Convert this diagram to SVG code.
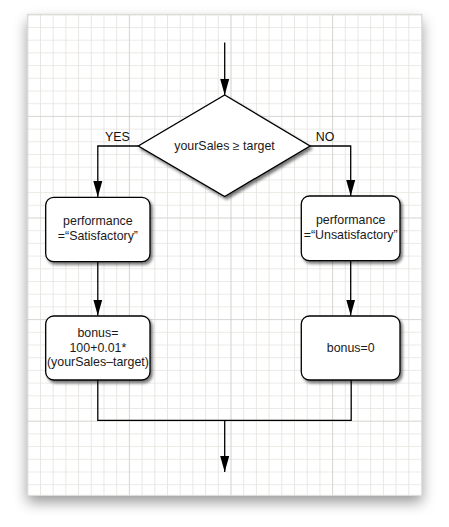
<svg xmlns="http://www.w3.org/2000/svg" width="449" height="527" viewBox="0 0 449 527">
<defs>
<pattern id="minor" patternUnits="userSpaceOnUse" x="27.3" y="14.3" width="12.7" height="12.7">
<rect width="12.7" height="12.7" fill="#ffffff"/>
<path d="M0 0 H12.7 M0 0 V12.7" stroke="#e6e4e0" stroke-width="1.7" fill="none"/>
</pattern>
<pattern id="major" patternUnits="userSpaceOnUse" x="27.3" y="14.3" width="101.6" height="101.6">
<path d="M0 0 H101.6 M0 0 V101.6" stroke="#c6c5c1" stroke-width="1" fill="none"/>
</pattern>
<filter id="paperShadow" x="-10%" y="-10%" width="120%" height="125%">
<feDropShadow dx="0" dy="7" stdDeviation="7" flood-color="#000" flood-opacity="0.4"/>
</filter>
<filter id="nodeShadow" x="-10%" y="-10%" width="125%" height="130%">
<feDropShadow dx="2" dy="2.5" stdDeviation="1.6" flood-color="#000" flood-opacity="0.55"/>
</filter>
<marker id="arrow" viewBox="0 0 16 10" refX="16" refY="5" markerWidth="16" markerHeight="10" markerUnits="userSpaceOnUse" orient="auto">
<path d="M0 0.5 L16 5 L0 9.5 Z" fill="#000"/>
</marker>
<style>
.conn { fill: none; stroke: #000; stroke-width: 1.3; }
.box { fill: #fff; stroke: #000; stroke-width: 1.3; filter: url(#nodeShadow); }
.lbl { font-family: "Liberation Sans", Arial, sans-serif; font-size: 12.4px; fill: #1a1a1a; text-anchor: middle; }
.yn { font-family: "Liberation Sans", Arial, sans-serif; font-size: 12.4px; fill: #111; text-anchor: middle; }
</style>
</defs>

<g id="paper">
<rect x="27.3" y="14.3" width="394.7" height="481" fill="#fff" filter="url(#paperShadow)"/>
<rect x="27.3" y="14.3" width="394.7" height="481" fill="url(#minor)"/>
<rect x="27.3" y="14.3" width="394.7" height="481" fill="url(#major)"/>
<rect x="27.3" y="14.3" width="394.7" height="481" fill="none" stroke="#d8d6d2" stroke-width="0.8"/>
</g>

<g id="connectors">
<line class="conn" x1="224.7" y1="42.5" x2="224.7" y2="95" marker-end="url(#arrow)"/>
<polyline class="conn" points="138.3,146 97.8,146 97.8,197" marker-end="url(#arrow)"/>
<polyline class="conn" points="310,146 350.7,146 350.7,196" marker-end="url(#arrow)"/>
<line class="conn" x1="97.8" y1="261.7" x2="97.8" y2="315.5" marker-end="url(#arrow)"/>
<line class="conn" x1="350.7" y1="260.7" x2="350.7" y2="315.5" marker-end="url(#arrow)"/>
<polyline class="conn" points="97.8,380 97.8,420.3 351.2,420.3 351.2,380"/>
<line class="conn" x1="224.7" y1="420.3" x2="224.7" y2="472" marker-end="url(#arrow)"/>
<text class="yn" x="117.5" y="140.5">YES</text>
<text class="yn" x="325" y="140.5">NO</text>
</g>

<g id="decision">
<polygon class="box" points="224.7,95 310,146 224.7,196.5 138.3,146"/>
<text class="lbl" x="224.5" y="150">yourSales ≥ target</text>
</g>

<g id="satisfactory">
<rect class="box" x="45.7" y="197.3" width="104.3" height="64.4" rx="8"/>
<text class="lbl" x="97.9" y="225">performance</text>
<text class="lbl" x="97.9" y="240">=“Satisfactory”</text>
</g>

<g id="unsatisfactory">
<rect class="box" x="301.3" y="196" width="98.7" height="64.7" rx="8"/>
<text class="lbl" x="350.7" y="223.5">performance</text>
<text class="lbl" x="350.7" y="238.5">=“Unsatisfactory”</text>
</g>

<g id="bonusFormula">
<rect class="box" x="45.7" y="316" width="104.3" height="64" rx="8"/>
<text class="lbl" x="97.9" y="337.3">bonus=</text>
<text class="lbl" x="97.9" y="351.7">100+0.01*</text>
<text class="lbl" x="97.9" y="366">(yourSales–target)</text>
</g>

<g id="bonusZero">
<rect class="box" x="301.3" y="316" width="98.7" height="64" rx="8"/>
<text class="lbl" x="350.7" y="352">bonus=0</text>
</g>
</svg>
